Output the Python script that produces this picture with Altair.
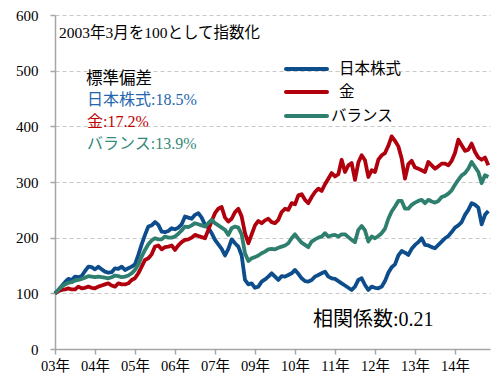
import json
import altair as alt
import pandas as pd

# ---- data ----
x_labels = ["03年", "04年", "05年", "06年", "07年", "09年", "10年", "11年", "12年", "13年", "14年"]
series_names = ["日本株式", "金", "バランス"]
colors = ["#0d4d8c", "#b0000d", "#2f7f6f"]
text_colors = ["#2565ae", "#c00000", "#358a7a"]
stdevs = ["18.5%", "17.2%", "13.9%"]
correlation = "0.21"

japan = [100, 106, 113, 120, 126, 124, 130, 129, 131, 140, 148, 147, 143, 148, 143, 139, 137, 138, 145, 144,
         148, 142, 145, 148, 152, 169, 188, 205, 220, 222, 228, 223, 211, 210, 212, 217, 215, 218, 224, 238,
         236, 234, 241, 244, 236, 223, 218, 208, 196, 188, 180, 168, 180, 197, 190, 184, 168, 124, 116, 118,
         110, 112, 121, 125, 130, 136, 130, 124, 131, 130, 133, 136, 142, 135, 127, 122, 121, 124, 130, 133,
         136, 139, 130, 127, 126, 122, 118, 114, 110, 106, 112, 124, 127, 115, 106, 112, 110, 109, 112, 122,
         137, 147, 152, 168, 176, 173, 169, 180, 187, 192, 199, 187, 186, 183, 181, 187, 193, 199, 203, 210,
         218, 222, 228, 241, 250, 262, 259, 254, 224, 241, 248]
gold = [100, 104, 106, 107, 109, 107, 107, 112, 109, 110, 112, 110, 109, 112, 114, 116, 118, 114, 112, 118,
        116, 116, 118, 124, 127, 136, 148, 160, 163, 170, 184, 186, 179, 183, 184, 186, 178, 186, 192, 196,
        197, 200, 205, 203, 201, 199, 214, 230, 244, 252, 255, 236, 229, 234, 246, 252, 238, 208, 190, 206,
        222, 230, 226, 231, 234, 228, 226, 232, 246, 252, 250, 262, 260, 276, 278, 268, 262, 273, 282, 288,
        284, 296, 306, 316, 310, 314, 340, 318, 330, 334, 304, 335, 348, 339, 309, 321, 318, 340, 348, 352,
        365, 382, 374, 364, 342, 306, 332, 338, 326, 324, 321, 318, 336, 330, 324, 328, 333, 333, 330, 338,
        352, 376, 366, 356, 358, 369, 354, 344, 340, 344, 330]
balance = [100, 106, 112, 116, 119, 120, 123, 124, 126, 128, 131, 130, 129, 130, 129, 128, 127, 129, 132, 131,
           129, 130, 132, 136, 142, 152, 166, 178, 188, 195, 199, 197, 197, 202, 200, 200, 202, 207, 213, 220,
           219, 222, 226, 224, 222, 220, 226, 232, 226, 222, 218, 214, 205, 217, 220, 218, 206, 172, 158, 163,
           165, 168, 172, 175, 179, 180, 179, 182, 184, 186, 190, 199, 206, 198, 191, 187, 183, 193, 197, 200,
           202, 208, 202, 204, 205, 202, 206, 206, 201, 196, 192, 214, 221, 213, 193, 202, 199, 203, 208, 216,
           234, 247, 256, 266, 266, 252, 252, 259, 263, 266, 268, 262, 268, 265, 263, 266, 273, 275, 279, 285,
           295, 304, 312, 316, 324, 336, 327, 318, 298, 312, 309]

# ---- build table ----
rows = []
for name, vals in zip(series_names, [japan, gold, balance]):
    for i, v in enumerate(vals):
        rows.append({"m": i, "v": v, "s": name})
df = pd.DataFrame(rows)

FONT = "Liberation Serif, Noto Sans CJK JP"
GRAY = "#a6a6a6"

label_expr = json.dumps(x_labels, ensure_ascii=False) + "[round(datum.value / 12)]"

lines = alt.Chart(df).mark_line(strokeWidth=3.8, strokeJoin="round").encode(
    x=alt.X("m:Q",
            scale=alt.Scale(domain=[0, 130.5], nice=False, zero=False),
            axis=alt.Axis(values=list(range(0, 121, 12)), labelExpr=label_expr, title=None, grid=False,
                          domainColor=GRAY, domainWidth=1.5, tickColor=GRAY, tickWidth=1.5, tickSize=5,
                          labelFont=FONT, labelFontSize=14.5, labelColor="#000000", labelPadding=5,
                          labelFlush=False, labelOverlap=False)),
    y=alt.Y("v:Q",
            scale=alt.Scale(domain=[0, 600], nice=False),
            axis=alt.Axis(values=list(range(0, 601, 100)), title=None, grid=True, gridDash=[4, 3],
                          gridColor="#c8c8c8", gridWidth=1.2, domainColor=GRAY, domainWidth=1.5,
                          tickColor=GRAY, tickWidth=1.5, tickSize=5, labelFont=FONT, labelFontSize=15,
                          labelColor="#000000", labelPadding=12)),
    color=alt.Color("s:N", scale=alt.Scale(domain=series_names, range=colors), legend=None),
    order=alt.Order("m:Q"),
)


def text_layer(txt, x, y, color="#000000", size=14, weight="normal"):
    return alt.Chart(pd.DataFrame({"t": [txt]})).mark_text(
        align="left", baseline="middle", font=FONT, fontSize=size, fontWeight=weight, color=color
    ).encode(x=alt.value(x), y=alt.value(y), text="t:N")


def legend_line(color, x1, x2, y):
    return alt.Chart(pd.DataFrame({"a": [0]})).mark_rule(strokeWidth=4, color=color, strokeCap="round").encode(
        x=alt.value(x1), x2=alt.value(x2), y=alt.value(y))


layers = [lines]
layers.append(text_layer("2003年3月を100として指数化", 4, 18, size=15.5))
layers.append(text_layer("標準偏差", 31, 64, size=16.5))
for i, (name, sd) in enumerate(zip(series_names, stdevs)):
    layers.append(text_layer(f"{name}:{sd}", 32, 85 + i * 22, color=text_colors[i], size=16))
layers.append(text_layer(f"相関係数:{correlation}", 258, 305, size=20))

# custom legend
legend_y = [54, 77, 101]
legend_label_x = [284, 284, 276]
for i, name in enumerate(series_names):
    layers.append(legend_line(colors[i], 231, 272, legend_y[i]))
    layers.append(text_layer(name, legend_label_x[i], legend_y[i], size=15.5))

chart = alt.layer(*layers).properties(
    width=435, height=334,
    padding={"left": 47, "top": 7, "right": 2, "bottom": 26},
    autosize=alt.AutoSizeParams(type="none"),
).configure_view(stroke=None)

chart.save("out.html", embed_options={"renderer": "svg", "actions": False})
